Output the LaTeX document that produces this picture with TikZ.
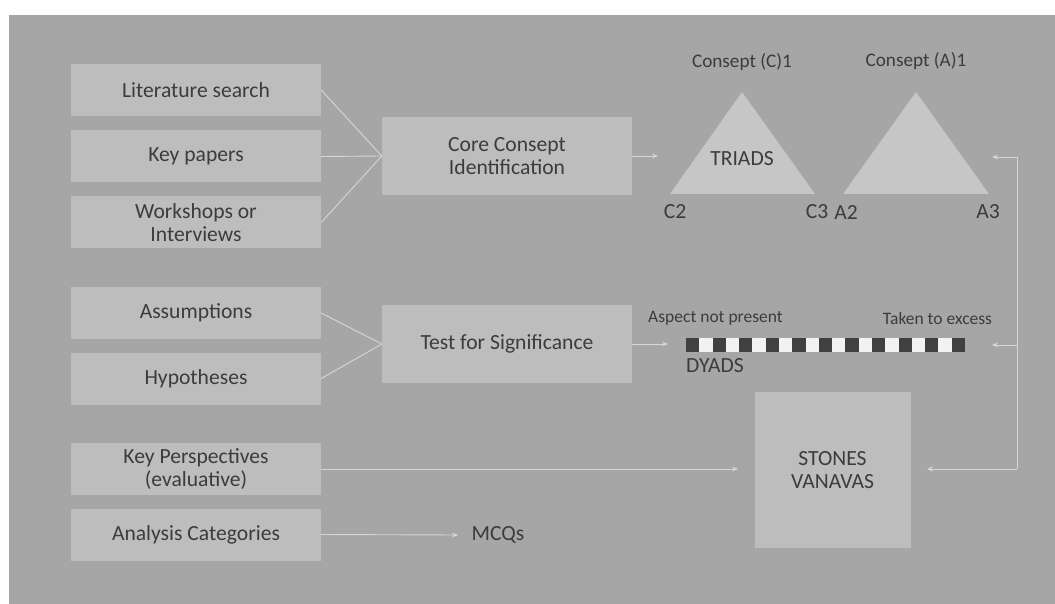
\documentclass[tikz,border=0pt]{standalone}
\usepackage{fontspec}
\setmainfont{Carlito}
\usetikzlibrary{arrows.meta}

\definecolor{bggray}{HTML}{A6A6A6}
\definecolor{boxgray}{HTML}{BDBDBD}
\definecolor{trigray}{HTML}{C6C6C6}
\definecolor{inkgray}{HTML}{3C3C3C}
\definecolor{linegray}{HTML}{D6D6D6}
\definecolor{darksq}{HTML}{404040}
\definecolor{lightsq}{HTML}{F2F2F2}

\tikzset{
  every node/.style={font=\fontsize{21.6}{23}\selectfont, text=inkgray},
  box/.style={fill=boxgray, draw=none, inner sep=0pt, align=center,
              minimum width=250pt, minimum height=52pt},
  bigbox/.style={box, minimum height=78pt},
  lbl/.style={inner sep=0pt},
  toplbl/.style={lbl, font=\fontsize{19.2}{22}\selectfont},
  endlbl/.style={lbl, font=\fontsize{17.5}{20}\selectfont},
  link/.style={draw=linegray, line width=0.9pt},
  arr/.style={link, -{Stealth[length=6pt, width=5pt]}},
}

\begin{document}
\begin{tikzpicture}[x=1pt, y=-1pt]
  % canvas and white margins
  \useasboundingbox (0,0) rectangle (1055,604);
  \fill[white] (0,0) rectangle (1055,604);
  \fill[bggray] (9,15) rectangle (1055,604);

  % input boxes
  \node[box] (lit)  at (196,90)    {Literature search};
  \node[box] (key)  at (196,156.5) {Key papers};
  \node[box] (work) at (196,222.5) {Workshops or\\Interviews};
  \node[box] (ass)  at (196,313)   {Assumptions};
  \node[box] (hyp)  at (196,378.5) {Hypotheses};
  \node[box] (kp)   at (196,469)   {Key Perspectives\\(evaluative)};
  \node[box] (ac)   at (196,534.5) {Analysis Categories};

  % process boxes
  \node[bigbox] (core) at (507,156) {Core Consept\\Identification};
  \node[bigbox] (test) at (507,344) {Test for Significance};
  \node[box, minimum width=156pt, minimum height=156pt] (stones) at (832.5,470) {};
  \node[lbl, align=center] (stonestxt) at (832.5,470) {STONES\\VANAVAS};

  % converging lines
  \draw[link] (lit.east)  -- (core.west);
  \draw[link] (key.east)  -- (core.west);
  \draw[link] (work.east) -- (core.west);
  \draw[link] (ass.east)  -- (test.west);
  \draw[link] (hyp.east)  -- (test.west);

  % triads
  \coordinate (cTop) at (742,92);
  \coordinate (cL) at (670,194);
  \coordinate (cR) at (815,194);
  \coordinate (aTop) at (916,92);
  \coordinate (aL) at (843,194);
  \coordinate (aR) at (989,194);
  \fill[trigray] (cTop) -- (cR) -- (cL) -- cycle;
  \fill[trigray] (aTop) -- (aR) -- (aL) -- cycle;
  \node[lbl] (triads) at (742,159) {TRIADS};
  \node[toplbl] (c1) at (742,62) {Consept (C)1};
  \node[toplbl] (a1) at (916,61) {Consept (A)1};
  \node[lbl] (c2) at (675,212) {C2};
  \node[lbl] (c3) at (817,212) {C3};
  \node[lbl] (a2) at (846,212) {A2};
  \node[lbl] (a3) at (988,212) {A3};

  % dyads bar
  \foreach \i in {0,...,20} {
    \pgfmathsetmacro{\xa}{686+\i*279/21}
    \pgfmathsetmacro{\xb}{686+(\i+1)*279/21}
    \pgfmathparse{mod(\i,2)==0 ? 1 : 0}
    \ifnum\pgfmathresult=1
      \fill[darksq] (\xa,338) rectangle (\xb,352);
    \else
      \fill[lightsq] (\xa,338) rectangle (\xb,352);
    \fi
  }
  \node[endlbl] (notp) at (715.5,318) {Aspect not present};
  \node[endlbl] (exc)  at (937.5,318) {Taken to excess};
  \node[lbl, anchor=west] (dyads) at (686,366) {DYADS};

  % MCQs
  \node[lbl] (mcq) at (498,535) {MCQs};

  % arrow end points
  \coordinate (toTri)   at (658,156);
  \coordinate (toDyL)   at (668,344);
  \coordinate (toSt)    at (738,469);
  \coordinate (toMcq)   at (458,535);
  \coordinate (fbTop)   at (1017,157);
  \coordinate (fbMid)   at (1017,345);
  \coordinate (fbBot)   at (1017,469);
  \coordinate (toA)     at (992,157);
  \coordinate (toDyR)   at (992,345);
  \coordinate (toStR)   at (927,469);

  % arrows
  \draw[arr] (core.east) -- (toTri);
  \draw[arr] (test.east) -- (toDyL);
  \draw[arr] (kp.east |- toSt) -- (toSt);
  \draw[arr] (ac.east) -- (toMcq);
  \draw[link] (fbTop) -- (fbBot);
  \draw[arr] (fbTop) -- (toA);
  \draw[arr] (fbMid) -- (toDyR);
  \draw[arr] (fbBot) -- (toStR);
\end{tikzpicture}
\end{document}
